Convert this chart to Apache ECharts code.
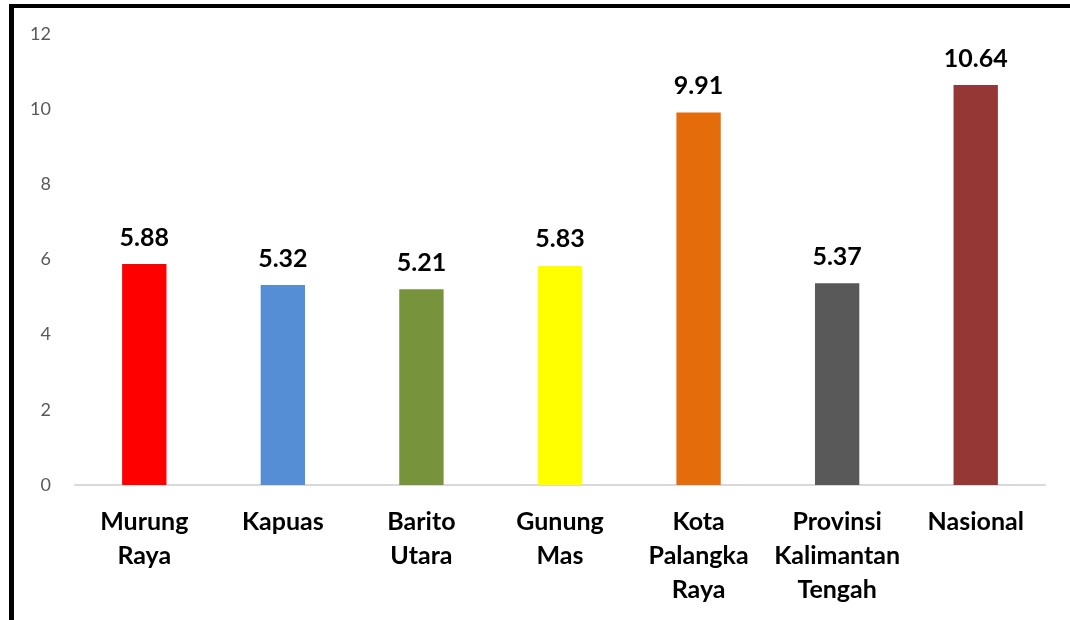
<!DOCTYPE html>
<html>
<head>
<meta charset="utf-8">
<script src="https://cdn.jsdelivr.net/npm/echarts@6/dist/echarts.min.js"></script>
<style>
  html, body { margin: 0; padding: 0; background: #fff; }
  #chart { width: 1070px; height: 620px; }
  .frame { position: absolute; left: 9px; top: 4px; width: 1070px; height: 620px;
           border-left: 5px solid #000; border-top: 4px solid #000; pointer-events: none; }
</style>
</head>
<body>
<div id="chart"></div>
<div class="frame"></div>
<script>
const categories = ['Murung\nRaya', 'Kapuas', 'Barito\nUtara', 'Gunung\nMas', 'Kota\nPalangka\nRaya', 'Provinsi\nKalimantan\nTengah', 'Nasional']
const values = [5.88, 5.32, 5.21, 5.83, 9.91, 5.37, 10.64]
const barColors = ['#ff0000', '#558ed5', '#77933c', '#ffff00', '#e46c0a', '#595959', '#953735']
const yTicks = [0, 2, 4, 6, 8, 10, 12]

const chart = echarts.init(document.getElementById('chart'))

chart.setOption({
  animation: false,
  grid: { left: 75, right: 25, top: 34, bottom: 135 },
  xAxis: {
    type: 'category',
    data: categories,
    axisTick: { show: false },
    axisLine: { lineStyle: { color: '#d9d9d9', width: 2 } },
    axisLabel: {
      interval: 0,
      margin: 20,
      color: '#000',
      fontFamily: 'Lato',
      fontWeight: 'bold',
      fontSize: 25,
      lineHeight: 34
    }
  },
  yAxis: {
    type: 'value',
    min: yTicks[0],
    max: yTicks[yTicks.length - 1],
    interval: 2,
    splitLine: { show: false },
    axisLine: { show: false },
    axisTick: { show: false },
    axisLabel: { color: '#595959', fontFamily: 'Lato', fontSize: 18, margin: 24 }
  },
  series: [{
    type: 'bar',
    barWidth: '32%',
    data: values.map((v, i) => ({ value: v, itemStyle: { color: barColors[i] } })),
    label: {
      show: true,
      position: 'top',
      distance: 14,
      color: '#000',
      fontFamily: 'Lato',
      fontWeight: 'bold',
      fontSize: 25,
      formatter: p => p.value.toFixed(2)
    }
  }]
})
</script>
</body>
</html>
